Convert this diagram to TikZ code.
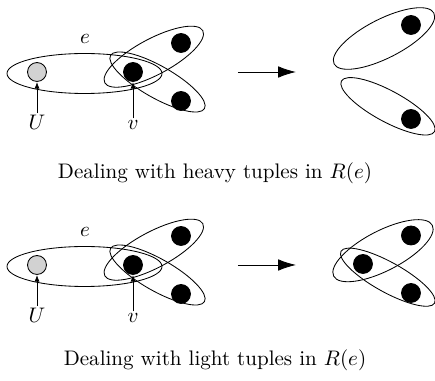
\documentclass[tikz,border=0pt]{standalone}
\usetikzlibrary{arrows.meta}
\begin{document}
\begin{tikzpicture}[x=0.475pt, y=-0.475pt, line join=round, >={Latex[length=3.2pt,width=2.4pt]},
	dot/.style={circle, draw, fill=black, minimum size=9pt, inner sep=0pt},
	graydot/.style={dot, fill=gray!35},
	lab/.style={inner sep=1pt, anchor=base}]
	\useasboundingbox (0,0) rectangle (435,381);
	% left part and arrow, same in both rows
	\foreach \i/\dy in {1/0, 2/193}{
		\begin{scope}[shift={(0,\dy)}]
			\draw (84.5,73.5) ellipse [x radius=77.5, y radius=20];
			\draw[rotate around={28:(153.8,56.7)}] (153.8,56.7) ellipse [x radius=55.5, y radius=18];
			\draw[rotate around={-29.5:(157.5,82)}] (157.5,82) ellipse [x radius=54, y radius=16];
			\node[graydot] (U\i) at (37,72) {};
			\node[dot] (v\i) at (133,72) {};
			\node[dot] (t\i) at (181,43) {};
			\node[dot] (b\i) at (181,101) {};
			\node (e\i) at (85,39) {$e$};
			\node[lab] (Ul\i) at (37,130) {$U$};
			\node[lab] (vl\i) at (133,130) {$v$};
			\draw[->] (Ul\i) -- (U\i);
			\draw[->] (vl\i) -- (v\i);
			\coordinate (a\i) at (238,72);
			\coordinate (z\i) at (296,72);
			\draw[-{Latex[length=8.5pt,width=5.5pt]}] (a\i) -- (z\i);
		\end{scope}
	}
	% heavy tuples: split
	\draw[rotate around={27:(384,38.5)}] (384,38.5) ellipse [x radius=56, y radius=19.5];
	\draw[rotate around={-28.5:(388,106.3)}] (388,106.3) ellipse [x radius=53, y radius=15.5];
	\node[dot] (ht) at (411,25) {};
	\node[dot] (hb) at (411,119) {};
	\node[anchor=base] (cap1) at (215,179) {Dealing with heavy tuples in $R(e)$};
	% light tuples: kept together
	\draw[rotate around={27.3:(383,250.7)}] (383,250.7) ellipse [x radius=55.5, y radius=20];
	\draw[rotate around={-29:(387.8,277.2)}] (387.8,277.2) ellipse [x radius=53.5, y radius=15];
	\node[dot] (lv) at (363,264) {};
	\node[dot] (lt) at (411,235.5) {};
	\node[dot] (lb) at (411,293) {};
	\node[anchor=base] (cap2) at (215,366) {Dealing with light tuples in $R(e)$};
\end{tikzpicture}
\end{document}
